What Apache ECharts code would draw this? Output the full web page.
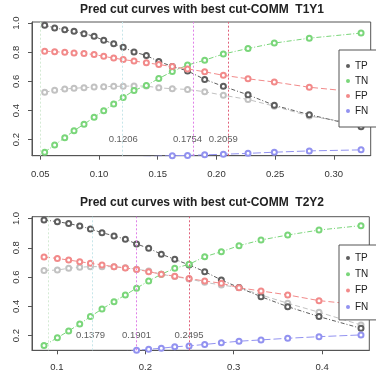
<!DOCTYPE html>
<html>
<head>
<meta charset="utf-8">
<script src="https://cdn.jsdelivr.net/npm/echarts@6/dist/echarts.min.js"></script>
<style>
  html, body { margin: 0; padding: 0; background: #fff; }
  #chart { width: 376px; height: 378px; }
</style>
</head>
<body>
<div id="chart"></div>
<script>
var chart = echarts.init(document.getElementById('chart'));

// panel 1 : T1Y1
var cut1 = [0.0537, 0.0622, 0.0708, 0.0787, 0.0872, 0.0958, 0.1040, 0.1125, 0.1206, 0.1298,
            0.1403, 0.1509, 0.1624, 0.1754, 0.1900, 0.2059, 0.2269, 0.2493, 0.2791, 0.3232];
var tp1 = [0.986, 0.967, 0.955, 0.944, 0.928, 0.910, 0.882, 0.859, 0.834, 0.802,
           0.778, 0.737, 0.703, 0.672, 0.614, 0.566, 0.508, 0.436, 0.372, 0.288];
var ref1 = [0.525, 0.540, 0.548, 0.553, 0.557, 0.561, 0.564, 0.566, 0.567, 0.569,
            0.568, 0.556, 0.550, 0.545, 0.529, 0.505, 0.476, 0.430, 0.362, 0.305];
var tn1 = [0.114, 0.164, 0.214, 0.262, 0.306, 0.354, 0.398, 0.445, 0.490, 0.538,
           0.572, 0.620, 0.668, 0.712, 0.746, 0.788, 0.826, 0.863, 0.897, 0.932];
var fp1 = [0.808, 0.804, 0.800, 0.796, 0.791, 0.785, 0.772, 0.760, 0.750, 0.740,
           0.728, 0.716, 0.702, 0.686, 0.666, 0.642, 0.618, 0.596, 0.560, 0.525];
var fn1 = [0.004, 0.008, 0.013, 0.019, 0.026, 0.034, 0.043, 0.053, 0.064, 0.074,
           0.082, 0.087, 0.090, 0.092, 0.096, 0.100, 0.106, 0.114, 0.123, 0.130];
var vlines1 = [0.0537, 0.1206, 0.1754, 0.2059];
var cutText1 = ['0.1206', '0.1754', '0.2059'];
var xTicks1 = [0.05, 0.10, 0.15, 0.20, 0.25, 0.30];

// panel 2 : T2Y2
var cut2 = [0.0854, 0.1005, 0.1133, 0.1258, 0.1379, 0.1510, 0.1646, 0.1774, 0.1901, 0.2038,
            0.2181, 0.2333, 0.2495, 0.2672, 0.2860, 0.3060, 0.3309, 0.3611, 0.3965, 0.4440];
var tp2 = [0.990, 0.978, 0.965, 0.949, 0.928, 0.903, 0.881, 0.858, 0.826, 0.796,
           0.756, 0.721, 0.683, 0.637, 0.580, 0.528, 0.466, 0.398, 0.330, 0.250];
var ref2 = [0.644, 0.648, 0.660, 0.667, 0.671, 0.671, 0.671, 0.664, 0.653, 0.642,
            0.619, 0.603, 0.587, 0.564, 0.546, 0.528, 0.478, 0.421, 0.360, 0.273];
var tn2 = [0.132, 0.186, 0.232, 0.280, 0.330, 0.382, 0.432, 0.478, 0.524, 0.573,
           0.619, 0.660, 0.687, 0.739, 0.773, 0.814, 0.853, 0.887, 0.921, 0.951];
var fp2 = [0.737, 0.727, 0.716, 0.705, 0.694, 0.683, 0.671, 0.662, 0.652, 0.637,
           0.619, 0.606, 0.590, 0.573, 0.558, 0.527, 0.505, 0.478, 0.439, 0.410];
var fn2 = [0.005, 0.015, 0.028, 0.042, 0.056, 0.070, 0.082, 0.091, 0.100, 0.107,
           0.114, 0.124, 0.130, 0.140, 0.151, 0.162, 0.171, 0.182, 0.193, 0.205];
var vlines2 = [0.0854, 0.1379, 0.1901, 0.2495];
var cutText2 = ['0.1379', '0.1901', '0.2495'];
var xTicks2 = [0.1, 0.2, 0.3, 0.4];

var yTicks = [0.2, 0.4, 0.6, 0.8, 1.0];
var names = ['TP', 'TN', 'FP', 'FN'];
var colors = { TP: '#5e5e5e', TN: '#7ad67a', FP: '#f28a8a', FN: '#9292f0', ref: '#c2c2c2' };
var vlineColors = ['#d4ead4', '#c6e6ea', '#e080e8', '#e0607a'];
var font = 'Liberation Sans';

function pairs(xs, ys) {
    var out = [];
    for (var i = 0; i < xs.length; i++) out.push([xs[i], ys[i]]);
    return out;
}

function curve(name, color, dash, idx, xs, ys) {
    return {
        name: name,
        type: 'line',
        xAxisIndex: idx,
        yAxisIndex: idx,
        data: pairs(xs, ys),
        symbol: 'emptyCircle',
        symbolSize: 5,
        showSymbol: true,
        clip: true,
        itemStyle: { color: color, borderWidth: 1 },
        lineStyle: { color: color, width: 1, type: dash },
        emphasis: { disabled: true },
        silent: true
    };
}

function markLines(vs) {
    return {
        silent: true,
        symbol: ['none', 'none'],
        label: { show: false },
        data: vs.map(function (v, i) {
            return { xAxis: v, lineStyle: { color: vlineColors[i], type: [2, 2], width: 1 } };
        })
    };
}

function cutLabels(idx, xs, texts) {
    return {
        type: 'scatter',
        xAxisIndex: idx,
        yAxisIndex: idx,
        symbolSize: 0,
        silent: true,
        data: texts.map(function (t, i) { return [xs[i + 1], 0.2, t]; }),
        label: {
            show: true,
            position: 'inside',
            formatter: function (p) { return p.value[2]; },
            fontFamily: font,
            fontSize: 9.5,
            color: '#333'
        }
    };
}

function panelSeries(idx, cut, tp, ref, tn, fp, fn, vl, texts) {
    var refS = curve('ref', colors.ref, [5, 3], idx, cut, ref);
    refS.markLine = markLines(vl);
    return [
        refS,
        curve('TP', colors.TP, [4, 2, 1, 2], idx, cut, tp),
        curve('TN', colors.TN, [5, 2, 1, 2], idx, cut, tn),
        curve('FP', colors.FP, [6, 3], idx, cut, fp),
        curve('FN', colors.FN, [8, 3], idx, cut, fn),
        cutLabels(idx, vl, texts)
    ];
}

function xAxis(idx, min, max, ticks, digits, margin) {
    return {
        gridIndex: idx,
        type: 'value',
        min: min,
        max: max,
        splitLine: { show: false },
        axisLine: { show: true, lineStyle: { color: '#555' } },
        axisTick: { show: true, customValues: ticks, length: 4, lineStyle: { color: '#555' } },
        axisLabel: {
            customValues: ticks,
            formatter: function (v) { return v.toFixed(digits); },
            margin: margin,
            fontFamily: font,
            fontSize: 9.5,
            color: '#333'
        }
    };
}

function yAxis(idx, min, max) {
    return {
        gridIndex: idx,
        type: 'value',
        min: min,
        max: max,
        splitLine: { show: false },
        axisLine: { show: true, lineStyle: { color: '#555' } },
        axisTick: { show: true, customValues: yTicks, length: 4, lineStyle: { color: '#555' } },
        axisLabel: {
            customValues: yTicks,
            formatter: function (v) { return v.toFixed(1); },
            rotate: 90,
            margin: 11,
            fontFamily: font,
            fontSize: 9.5,
            color: '#333'
        }
    };
}

function legend(top, gap, pad) {
    return {
        left: 339,
        top: top,
        orient: 'vertical',
        selectedMode: false,
        backgroundColor: '#fff',
        borderColor: '#555',
        borderWidth: 1,
        borderRadius: 0,
        padding: pad,
        itemGap: gap,
        itemWidth: 4,
        itemHeight: 4,
        textStyle: { fontFamily: font, fontSize: 10, lineHeight: 10, color: '#222' },
        data: names.map(function (n) {
            return { name: n, icon: 'circle', itemStyle: { color: colors[n], borderWidth: 0 } };
        })
    };
}

var titleStyle = { fontFamily: font, fontSize: 12, fontWeight: 'bold', color: '#222' };

var option = {
    backgroundColor: '#fff',
    animation: false,
    title: [
        { text: 'Pred cut curves with best cut-COMM  T1Y1', left: 202, textAlign: 'center', top: 3.5, padding: 0, textStyle: titleStyle },
        { text: 'Pred cut curves with best cut-COMM  T2Y2', left: 202, textAlign: 'center', top: 196.5, padding: 0, textStyle: titleStyle }
    ],
    legend: [
        legend(50, 5, [11, 12, 11, 7]),
        legend(245, 6.3, [8, 12, 8, 7])
    ],
    grid: [
        { left: 32, top: 22, width: 338.7, height: 133.7, show: true, borderColor: '#555', borderWidth: 1, backgroundColor: 'transparent' },
        { left: 32, top: 216.7, width: 337.3, height: 133.6, show: true, borderColor: '#555', borderWidth: 1, backgroundColor: 'transparent' }
    ],
    xAxis: [
        xAxis(0, 0.0429, 0.3314, xTicks1, 2, 14),
        xAxis(1, 0.0718, 0.4534, xTicks2, 1, 12)
    ],
    yAxis: [
        yAxis(0, 0.09, 1.008),
        yAxis(1, 0.10, 1.012)
    ],
    series: panelSeries(0, cut1, tp1, ref1, tn1, fp1, fn1, vlines1, cutText1)
        .concat(panelSeries(1, cut2, tp2, ref2, tn2, fp2, fn2, vlines2, cutText2))
};

chart.setOption(option);
</script>
</body>
</html>
